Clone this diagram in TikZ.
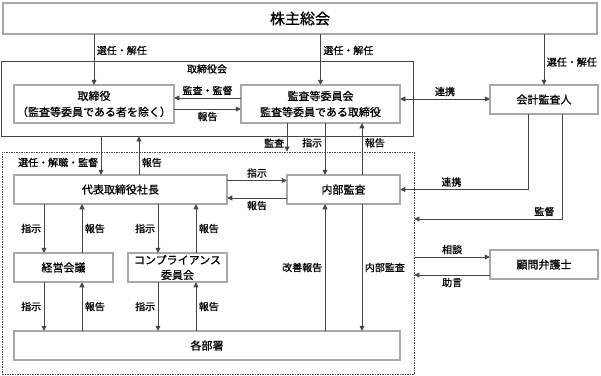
\documentclass[tikz,border=0pt]{standalone}
\usepackage{fontspec}
\setmainfont{Noto Sans CJK JP}[FakeBold=0.9]
\usetikzlibrary{arrows.meta, positioning, calc}
\definecolor{LineGray}{HTML}{464646}
\definecolor{BandGray}{HTML}{A8A8A8}

\begin{document}
\begin{tikzpicture}[
    x=1pt, y=-1pt,
    org/.style={draw=LineGray, line width=0.5pt, double=BandGray, double distance=1.1pt, fill=white, minimum height=29, font=\fontsize{11}{16}\selectfont, align=center, inner sep=0pt, anchor=center},
    grp/.style={draw=LineGray, line width=0.8pt, inner sep=0pt, anchor=center},
    arr/.style={draw=LineGray, line width=0.7pt, >={Triangle[length=5pt,width=5pt]}, ->},
    lbl/.style={font=\fontsize{10}{12}\selectfont, inner sep=2.5pt}
]
\useasboundingbox (0,0) rectangle (601,375);

\node[grp, minimum width=412, minimum height=75] (yakuinkai) at (207,98.5) {};
\node[lbl, below=1pt of yakuinkai.north] (yakuinkai-l) {取締役会};
\node[grp, dash pattern=on 1.5pt off 1pt, minimum width=412, minimum height=222] (shikko) at (208,263) {};

\node[org, minimum width=594, minimum height=31, font=\fontsize{15}{18}\selectfont] (soukai) at (300,18.5) {株主総会};
\node[org, minimum width=160, minimum height=38] (torishimari) at (94,104) {取締役\\（監査等委員である者を除く）};
\node[org, minimum width=159, minimum height=38] (kansa) at (320.5,104) {監査等委員会\\監査等委員である取締役};
\node[org, minimum width=108] (kaikei) at (544,99.5) {会計監査人};
\node[org, minimum width=213] (daihyo) at (120.5,189.5) {代表取締役社長};
\node[org, minimum width=113] (naibu) at (343.5,189.5) {内部監査};
\node[org, minimum width=99] (keiei) at (63.5,267.5) {経営会議};
\node[org, minimum width=99, font=\fontsize{11}{15}\selectfont] (comp) at (177.5,267.5) {コンプライアンス\\委員会};
\node[org, minimum width=386] (busho) at (207,345.5) {各部署};
\node[org, minimum width=108] (komon) at (544,264.5) {顧問弁護士};
\coordinate (kantoku-end) at (shikko.east |- 0,219);

\draw[arr] (soukai.south -| torishimari.north) -- node[lbl, right, pos=0.32] (sen1) {選任・解任} (torishimari.north);
\draw[arr] (soukai.south -| kansa.north) -- node[lbl, right, pos=0.32] (sen2) {選任・解任} (kansa.north);
\draw[arr] (soukai.south -| kaikei.north) -- node[lbl, right, pos=0.55] (sen3) {選任・解任} (kaikei.north);

\draw[arr] ([yshift=6pt]kansa.west) -- node[lbl, above] (kankan) {監査・監督} ([yshift=6pt]kansa.west -| torishimari.east);
\draw[arr] ([yshift=-5pt]torishimari.east) -- node[lbl, below] (hou1) {報告} ([yshift=-5pt]torishimari.east -| kansa.west);
\draw[arr, <->] ([yshift=5pt]kansa.east) -- node[lbl, above] (ren1) {連携} ([yshift=5pt]kansa.east -| kaikei.west);

\draw[arr] ([xshift=-33.5pt]kansa.south) -- node[lbl, left, pos=0.7] (kan1) {監査} ([xshift=-33.5pt]kansa.south |- shikko.north);
\draw[arr] ([xshift=-18.5pt]naibu.north |- kansa.south) -- node[lbl, left, pos=0.38] (shi1) {指示} ([xshift=-18.5pt]naibu.north);
\draw[arr] ([xshift=18.5pt]naibu.north) -- node[lbl, right, pos=0.62] (hou2) {報告} ([xshift=18.5pt]naibu.north |- kansa.south);

\draw[arr] ([xshift=-19.5pt]daihyo.north |- yakuinkai.south) -- node[lbl, left, pos=0.68] (sen4) {選任・解職・監督} ([xshift=-19.5pt]daihyo.north);
\draw[arr] ([xshift=18.5pt]daihyo.north) -- node[lbl, right, pos=0.32] (hou3) {報告} ([xshift=18.5pt]daihyo.north |- yakuinkai.south);

\draw[arr] ([yshift=9pt]daihyo.east) -- node[lbl, above] (shi2) {指示} ([yshift=9pt]daihyo.east -| naibu.west);
\draw[arr] ([yshift=-8.5pt]naibu.west) -- node[lbl, below] (hou4) {報告} ([yshift=-8.5pt]naibu.west -| daihyo.east);

\draw[arr] ([xshift=-16pt]kaikei.south) |- node[lbl, above, pos=0.8] (ren2) {連携} (naibu.east);
\draw[arr] ([xshift=18pt]kaikei.south) |- node[lbl, above, pos=0.56] (kan2) {監督} (kantoku-end);

\draw[arr] ([yshift=7.5pt]komon.west -| shikko.east) -- node[lbl, above] (sou) {相談} ([yshift=7.5pt]komon.west);
\draw[arr] ([yshift=-10.5pt]komon.west) -- node[lbl, below] (jo) {助言} ([yshift=-10.5pt]komon.west -| shikko.east);

\draw[arr] ([xshift=-19.5pt]keiei.north |- daihyo.south) -- node[lbl, left] (shi3) {指示} ([xshift=-19.5pt]keiei.north);
\draw[arr] ([xshift=18.5pt]keiei.north) -- node[lbl, right] (hou5) {報告} ([xshift=18.5pt]keiei.north |- daihyo.south);
\draw[arr] ([xshift=-19.5pt]comp.north |- daihyo.south) -- node[lbl, left] (shi4) {指示} ([xshift=-19.5pt]comp.north);
\draw[arr] ([xshift=18.5pt]comp.north) -- node[lbl, right] (hou6) {報告} ([xshift=18.5pt]comp.north |- daihyo.south);

\draw[arr] ([xshift=-19.5pt]keiei.south) -- node[lbl, left] (shi5) {指示} ([xshift=-19.5pt]keiei.south |- busho.north);
\draw[arr] ([xshift=18.5pt]keiei.south |- busho.north) -- node[lbl, right] (hou7) {報告} ([xshift=18.5pt]keiei.south);
\draw[arr] ([xshift=-19.5pt]comp.south) -- node[lbl, left] (shi6) {指示} ([xshift=-19.5pt]comp.south |- busho.north);
\draw[arr] ([xshift=18.5pt]comp.south |- busho.north) -- node[lbl, right] (hou8) {報告} ([xshift=18.5pt]comp.south);

\draw[arr] ([xshift=-18.5pt]naibu.south |- busho.north) -- node[lbl, left] (kaizen) {改善報告} ([xshift=-18.5pt]naibu.south);
\draw[arr] ([xshift=18.5pt]naibu.south) -- node[lbl, right] (naikan) {内部監査} ([xshift=18.5pt]naibu.south |- busho.north);
\end{tikzpicture}
\end{document}
